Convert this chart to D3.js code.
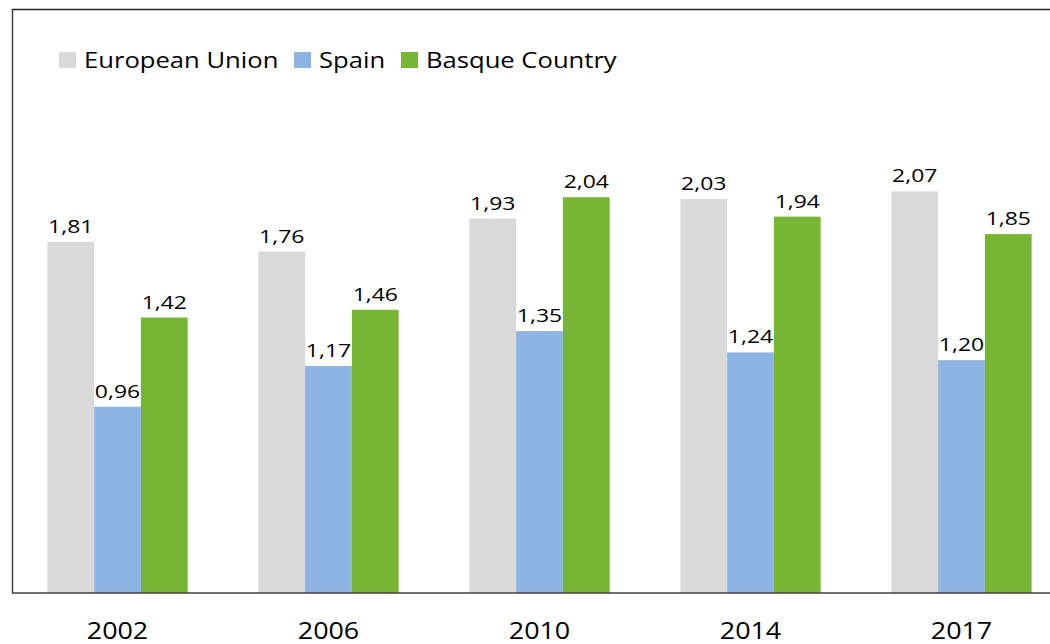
<!DOCTYPE html>
<html>
<head>
<meta charset="utf-8">
<script src="https://cdn.jsdelivr.net/npm/d3@7"></script>
<style>
  body { margin: 0; background: #fff; }
  text { font-family: "Open Sans", "Noto Sans", sans-serif; fill: #000; }
</style>
</head>
<body>
<div id="chart"></div>
<script>
// data
var years = ["2002", "2006", "2010", "2014", "2017"];
var seriesNames = ["European Union", "Spain", "Basque Country"];
var euValues = [1.81, 1.76, 1.93, 2.03, 2.07];
var spainValues = [0.96, 1.17, 1.35, 1.24, 1.20];
var basqueValues = [1.42, 1.46, 2.04, 1.94, 1.85];
var colors = ["#d9d9d9", "#8eb4e3", "#77b535"];

var width = 1050, height = 644;
var svg = d3.select("#chart").append("svg")
  .attr("width", width)
  .attr("height", height);

var series = [euValues, spainValues, basqueValues];

// the original font is a lot wider than anything installed, so stretch text a bit
var stretchLegend = 1.22, stretchValue = 1.24, stretchYear = 1.12;

// scales
var x0 = d3.scaleBand().domain(years).range([12, 1067])
  .paddingInner(0.335).paddingOuter(0.1675);
var x1 = d3.scaleBand().domain(d3.range(seriesNames.length))
  .range([0, x0.bandwidth()]);
var y = d3.scaleLinear().domain([0, 3]).range([593, 11]);

// frame
svg.append("line")
  .attr("x1", 12.5).attr("x2", 12.5).attr("y1", 9).attr("y2", 593)
  .attr("stroke", "#404040").attr("stroke-width", 1.5);
svg.append("line")
  .attr("x1", 12).attr("x2", width).attr("y1", 9.5).attr("y2", 9.5)
  .attr("stroke", "#202020").attr("stroke-width", 1.5);

// bars
var groups = svg.selectAll(".grp").data(years).enter().append("g")
  .attr("class", "grp")
  .attr("transform", function (d) { return "translate(" + x0(d) + ",0)"; });

function cells(d, i) {
  return series.map(function (s, k) { return { k: k, v: s[i] }; });
}

groups.selectAll("rect").data(cells).enter().append("rect")
  .attr("x", function (d) { return x1(d.k); })
  .attr("width", x1.bandwidth())
  .attr("y", function (d) { return y(d.v); })
  .attr("height", function (d) { return y(0) - y(d.v); })
  .attr("fill", function (d) { return colors[d.k]; });

groups.selectAll(".val").data(cells).enter().append("text")
  .attr("class", "val")
  .attr("transform", function (d) {
    return "translate(" + (x1(d.k) + x1.bandwidth() / 2) + "," + (y(d.v) - 9) + ") scale(" + stretchValue + ",1)";
  })
  .attr("text-anchor", "middle")
  .style("font-size", "18.5px")
  .text(function (d) { return d.v.toFixed(2).replace(".", ","); });

// x axis
var xAxis = svg.append("g")
  .attr("transform", "translate(0," + y(0) + ")")
  .call(d3.axisBottom(x0).tickSize(0));
xAxis.select(".domain").attr("stroke", "#404040").attr("stroke-width", 1.5)
  .attr("d", "M12,0H" + width);
xAxis.selectAll("text")
  .attr("y", 46).attr("dy", null)
  .attr("transform", "scale(" + stretchYear + ",1)")
  .style("font-size", "24px")
  .style("font-family", "'Open Sans', 'Noto Sans', sans-serif").attr("fill", "#000");

// legend
var legendX = [59, 294, 401];
var legend = svg.selectAll(".leg").data(seriesNames).enter().append("g")
  .attr("class", "leg")
  .attr("transform", function (d, i) { return "translate(" + legendX[i] + ",52)"; });
legend.append("rect")
  .attr("width", 17).attr("height", 16)
  .attr("fill", function (d, i) { return colors[i]; });
legend.append("text")
  .attr("transform", "translate(25,16) scale(" + stretchLegend + ",1)")
  .style("font-size", "21px")
  .text(function (d) { return d; });
</script>
</body>
</html>
